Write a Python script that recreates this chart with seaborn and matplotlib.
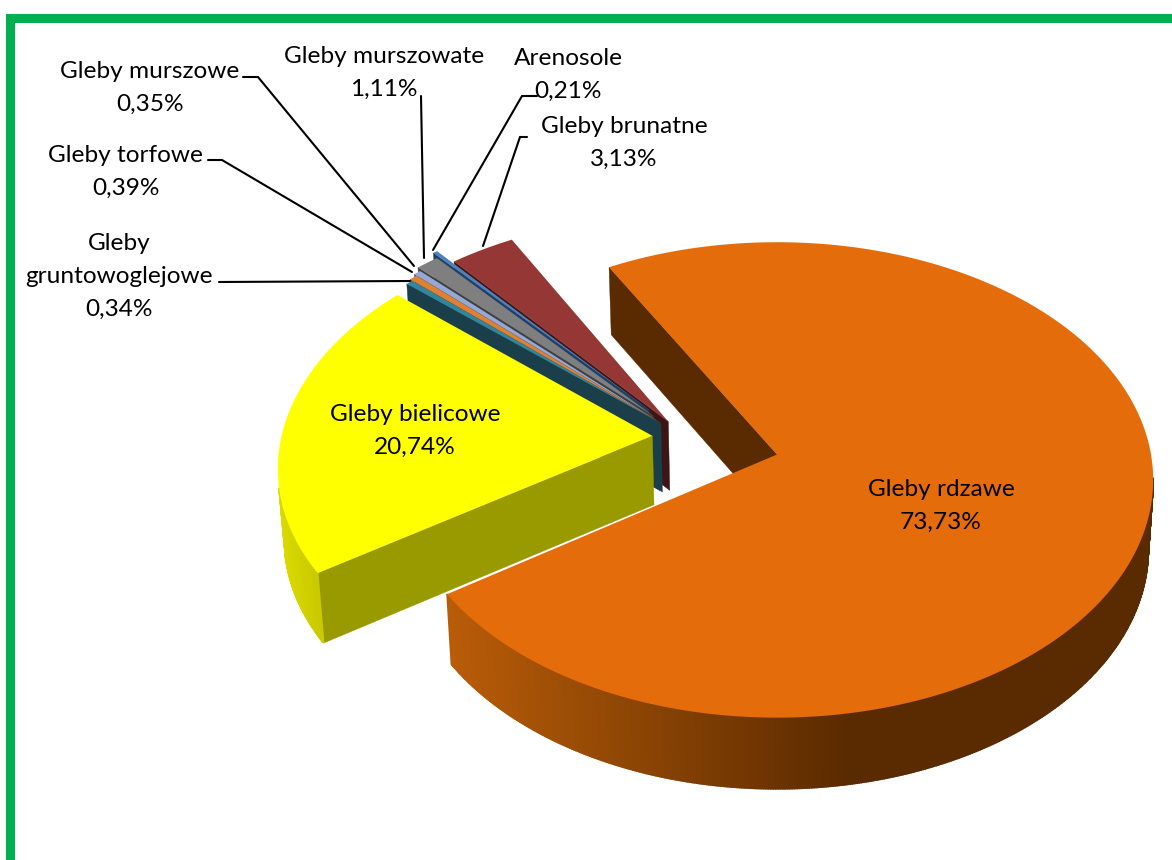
import numpy as np
import matplotlib
matplotlib.use('Agg')
import matplotlib.pyplot as plt
import seaborn as sns

# clockwise starting from the back edge of the biggest slice
soil_names = ['Gleby rdzawe', 'Gleby bielicowe', 'Gleby\ngruntowoglejowe', 'Gleby torfowe',
              'Gleby murszowe', 'Gleby murszowate', 'Arenosole', 'Gleby brunatne']
soil_shares = [73.73, 20.74, 0.34, 0.39, 0.35, 1.11, 0.21, 3.13]

top_colors = ['#e46c0a', '#ffff00', '#31859c', '#e08030', '#95a9d6', '#7f7f7f', '#4f81bd', '#953735']
wall_colors = ['#5a2a00', '#999900', '#1a3f4b', '#6e3a12', '#4a5470', '#3f3f3f', '#1f3f66', '#3d1514']

# exploded centre of each slice on the pie plane
slice_shift_x = [0.0, -0.336, -0.315, -0.322, -0.329, -0.337, -0.350, -0.295]
slice_shift_y = [0.0, 0.080, 0.135, 0.142, 0.150, 0.168, 0.195, 0.142]

# projection of the tilted pie, in pixels
CX, CY = 777, 454.5
RX, RY = 374, 235
PERSP = 0.107
DEPTH = 69
START_ANGLE = 119.4


def project(px, py, bottom=False):
    w = 1 + PERSP * py
    sx = RX * px / w
    sy = -RY * py / w
    if bottom:
        return CX + 0.987 * sx, CY + DEPTH + 1.008 * sy
    return CX + sx, CY + sy


def mix(c1, c2, t):
    a, b = np.array(matplotlib.colors.to_rgb(c1)), np.array(matplotlib.colors.to_rgb(c2))
    return tuple(a + (b - a) * t)


sns.set_theme(style='white')
plt.rcParams['font.family'] = ['Lato', 'DejaVu Sans']

fig = plt.figure(figsize=(11.72, 8.6), dpi=100)
ax = fig.add_axes([0, 0, 1, 1])
ax.set_xlim(0, 1172)
ax.set_ylim(860, 0)
ax.axis('off')

# frame
ax.fill_between([6, 15], 14, 860, color='#00b050', lw=0)
ax.fill_between([6, 1172], 14, 23, color='#00b050', lw=0)

# angle span of each slice, going clockwise
spans = []
a = START_ANGLE
for share in soil_shares:
    spans.append((a - share * 3.6, a))
    a -= share * 3.6

# small slices go from the back forward, then yellow, orange last
draw_order = [7, 6, 5, 4, 3, 2, 1, 0]
for i in draw_order:
    lo, hi = spans[i]
    ox, oy = slice_shift_x[i], slice_shift_y[i]
    angles = np.radians(np.linspace(lo, hi, max(int(hi - lo) * 3, 4)))
    rim_x = ox + np.cos(angles)
    rim_y = oy + np.sin(angles)

    # straight wall on the counter-clockwise side
    tx, ty = project(ox + np.cos(np.radians(hi)), oy + np.sin(np.radians(hi)))
    bx, by = project(ox + np.cos(np.radians(hi)), oy + np.sin(np.radians(hi)), bottom=True)
    t0x, t0y = project(ox, oy)
    b0x, b0y = project(ox, oy, bottom=True)
    ax.fill([tx, t0x, b0x, bx], [ty, t0y, b0y, by], color=wall_colors[i], lw=0.3, zorder=2 + draw_order.index(i) * 3)

    # rounded outer wall, only the strips on the near side
    limit = -0.22 if i == 1 else -0.1
    for j in range(len(angles) - 1):
        if np.sin(angles[j]) > limit and np.sin(angles[j + 1]) > limit:
            continue
        x1, y1 = project(rim_x[j], rim_y[j])
        x2, y2 = project(rim_x[j + 1], rim_y[j + 1])
        x3, y3 = project(rim_x[j + 1], rim_y[j + 1], bottom=True)
        x4, y4 = project(rim_x[j], rim_y[j], bottom=True)
        if i == 0:
            col = mix('#b85c08', wall_colors[0], np.clip((x1 - 450) / 400, 0, 1))
        elif i == 1:
            col = mix('#dada00', '#c8c800', np.clip((x1 - 280) / 40, 0, 1))
        else:
            col = wall_colors[i]
        ax.fill([x1, x2, x3, x4], [y1, y2, y3, y4], color=col, lw=1.2, zorder=3 + draw_order.index(i) * 3)

    # top face
    sx, sy = project(np.r_[ox, rim_x], np.r_[oy, rim_y])
    ax.fill(sx, sy, color=top_colors[i], lw=0, zorder=4 + draw_order.index(i) * 3)


def pct(v):
    return f'{v:.2f}%'.replace('.', ',')


# label centres (first line) and leader lines
label_pos = {0: (941, 489.5), 1: (415, 414.5), 2: (119, 243.5), 3: (126, 155.5),
             4: (150, 71.5), 5: (384, 56.5), 6: (568, 58.5), 7: (624, 126.5)}
leaders = {2: ([219, 410], [282, 281]),
           3: ([208, 222, 412], [160, 160, 272]),
           4: ([243, 258, 414], [77, 77, 266]),
           5: ([421, 424], [96, 258]),
           6: ([537, 522, 433], [96, 96, 250]),
           7: ([527, 520, 483], [137, 137, 246])}

for i, name in enumerate(soil_names):
    x, y = label_pos[i]
    lines = name.split('\n') + [pct(soil_shares[i])]
    for k, line in enumerate(lines):
        ax.text(x, y + k * 32.7, line, ha='center', va='center', fontsize=17.6, color='black', zorder=50)
    if i in leaders:
        ax.plot(leaders[i][0], leaders[i][1], color='black', lw=1.5, zorder=40, solid_joinstyle='miter')

fig.savefig('out.png', dpi=100)
